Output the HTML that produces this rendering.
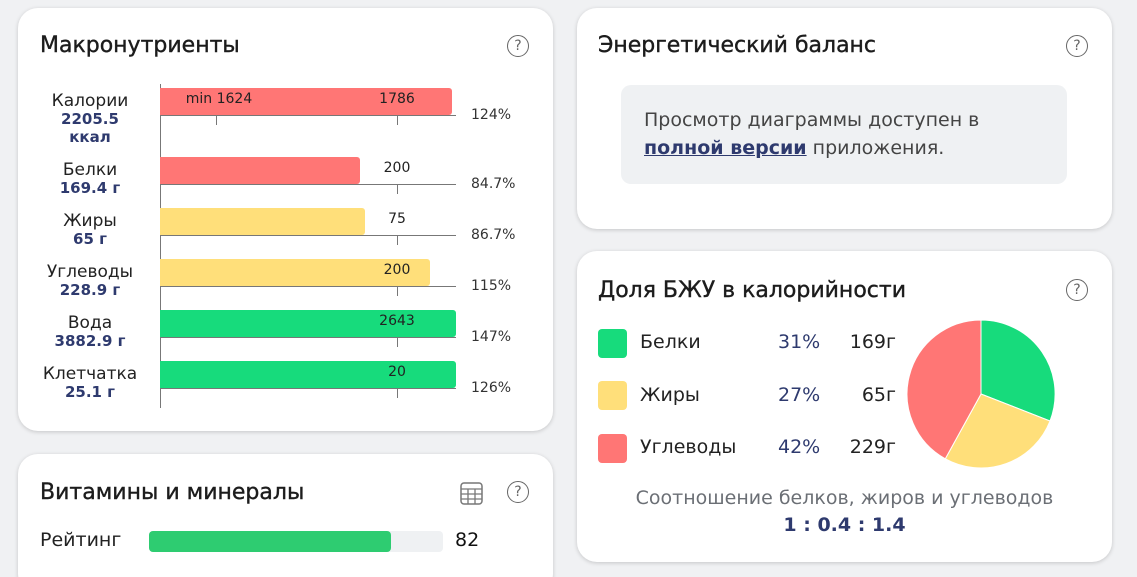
<!DOCTYPE html>
<html><head><meta charset="utf-8"><style>
html,body{margin:0;width:1137px;height:577px;overflow:hidden}
body{background:#f0f1f3;font-family:"DejaVu Sans","Liberation Sans",sans-serif;position:relative;color:#222}
.card{position:absolute;background:#fff;border-radius:20px;box-shadow:0 1px 4px rgba(0,0,0,.18)}
.a{position:absolute;white-space:nowrap}
h2{position:absolute;margin:0;font-weight:normal;font-size:22px;color:#1c1c1c;-webkit-text-stroke:0.4px #1c1c1c}
.q{position:absolute;width:20px;height:20px;border:1.5px solid #666;border-radius:50%;font-size:14px;text-align:center;line-height:20px;color:#666}
.lbl{position:absolute;width:130px;left:25px;text-align:center;font-size:17px;line-height:18px;color:#222}
.lbl b{display:block;color:#2e3a6e;font-size:15px}
.bar{position:absolute;left:160px;height:27px;border-radius:0 3px 3px 0}
.base{position:absolute;left:160px;width:296px;height:1px;background:#777}
.tk{position:absolute;width:1px;height:10px;background:#777}
.num{position:absolute;font-size:14px;color:#222;transform:translateX(-50%)}
.pct{position:absolute;left:471px;font-size:14px;color:#333}
.sw{position:absolute;left:598px;width:29px;height:29px;border-radius:4px}
.lg{position:absolute;font-size:19px;color:#222}
.lp{position:absolute;font-size:19px;color:#2e3a6e}
</style></head><body>

<div class="card" style="left:18px;top:8px;width:535px;height:423px"></div>
<h2 style="left:40px;top:33px">Макронутриенты</h2>
<div class="q" style="left:507px;top:35px">?</div>

<div style="position:absolute;left:160px;top:84px;width:1px;height:324px;background:#777"></div>

<div class="bar" style="top:88px;width:292px;background:#ff7675"></div>
<div class="bar" style="top:157px;width:200px;background:#ff7675"></div>
<div class="bar" style="top:208px;width:205px;background:#ffdf7a"></div>
<div class="bar" style="top:259px;width:270px;background:#ffdf7a"></div>
<div class="bar" style="top:310px;width:296px;background:#17db7c"></div>
<div class="bar" style="top:361px;width:296px;background:#17db7c"></div>

<div class="base" style="top:115px"></div><div class="tk" style="left:216px;top:115px"></div><div class="tk" style="left:397px;top:115px"></div>
<div class="base" style="top:184px"></div><div class="tk" style="left:397px;top:184px"></div>
<div class="base" style="top:235px"></div><div class="tk" style="left:397px;top:235px"></div>
<div class="base" style="top:286px"></div><div class="tk" style="left:397px;top:286px"></div>
<div class="base" style="top:337px"></div><div class="tk" style="left:397px;top:337px"></div>
<div class="base" style="top:388px"></div><div class="tk" style="left:397px;top:388px"></div>

<div class="num" style="left:219px;top:91px">min 1624</div>
<div class="num" style="left:397px;top:91px">1786</div>
<div class="num" style="left:397px;top:160px">200</div>
<div class="num" style="left:397px;top:211px">75</div>
<div class="num" style="left:397px;top:262px">200</div>
<div class="num" style="left:397px;top:313px">2643</div>
<div class="num" style="left:397px;top:364px">20</div>

<div class="pct" style="top:107px">124%</div>
<div class="pct" style="top:176px">84.7%</div>
<div class="pct" style="top:227px">86.7%</div>
<div class="pct" style="top:278px">115%</div>
<div class="pct" style="top:329px">147%</div>
<div class="pct" style="top:380px">126%</div>

<div class="lbl" style="top:92px">Калории<b>2205.5<br>ккал</b></div>
<div class="lbl" style="top:161px">Белки<b>169.4 г</b></div>
<div class="lbl" style="top:212px">Жиры<b>65 г</b></div>
<div class="lbl" style="top:263px">Углеводы<b>228.9 г</b></div>
<div class="lbl" style="top:314px">Вода<b>3882.9 г</b></div>
<div class="lbl" style="top:365px">Клетчатка<b>25.1 г</b></div>

<div class="card" style="left:18px;top:454px;width:535px;height:140px"></div>
<h2 style="left:40px;top:480px">Витамины и минералы</h2>
<svg class="a" style="left:460px;top:482px" width="24" height="24"><rect x="1" y="1" width="21" height="21" rx="3" fill="none" stroke="#777" stroke-width="1.5"/><path d="M1 7H22M1 12H22M1 17H22M8 7V22M15 7V22" stroke="#777" stroke-width="1.3"/></svg>
<div class="q" style="left:507px;top:481px">?</div>
<div class="a" style="left:40px;top:529px;font-size:19px;color:#222">Рейтинг</div>
<div class="a" style="left:149px;top:531px;width:294px;height:21px;background:#eff1f3;border-radius:4px"></div>
<div class="a" style="left:149px;top:531px;width:242px;height:21px;background:#2ecc71;border-radius:4px"></div>
<div class="a" style="left:455px;top:529px;font-size:19px;color:#111">82</div>

<div class="card" style="left:577px;top:8px;width:535px;height:221px"></div>
<h2 style="left:598px;top:33px">Энергетический баланс</h2>
<div class="q" style="left:1066px;top:35px">?</div>
<div class="a" style="left:621px;top:85px;width:446px;height:99px;background:#eff1f3;border-radius:10px"></div>
<div class="a" style="left:644px;top:106px;font-size:19px;line-height:28px;color:#444">Просмотр диаграммы доступен в<br><span style="color:#2e3a6e;font-weight:bold;text-decoration:underline">полной версии</span> приложения.</div>

<div class="card" style="left:577px;top:251px;width:535px;height:311px"></div>
<h2 style="left:598px;top:278px">Доля БЖУ в калорийности</h2>
<div class="q" style="left:1066px;top:279px">?</div>

<div class="sw" style="top:329px;background:#17db7c"></div>
<div class="sw" style="top:381px;background:#ffdf7a"></div>
<div class="sw" style="top:434px;background:#ff7675"></div>
<div class="lg" style="left:640px;top:331px">Белки</div>
<div class="lg" style="left:640px;top:384px">Жиры</div>
<div class="lg" style="left:640px;top:436px">Углеводы</div>
<div class="lp" style="left:778px;top:331px">31%</div>
<div class="lp" style="left:778px;top:384px">27%</div>
<div class="lp" style="left:778px;top:436px">42%</div>
<div class="lg" style="left:820px;top:331px;width:76px;text-align:right">169г</div>
<div class="lg" style="left:820px;top:384px;width:76px;text-align:right">65г</div>
<div class="lg" style="left:820px;top:436px;width:76px;text-align:right">229г</div>

<svg class="a" style="left:0;top:0" width="1137" height="577">
<path d="M981 394 L981 320 A74 74 0 0 1 1050 421 Z" fill="#17db7c" stroke="#fff" stroke-width="1"/>
<path d="M981 394 L1050 421 A74 74 0 0 1 945.3 458.8 Z" fill="#ffdf7a" stroke="#fff" stroke-width="1"/>
<path d="M981 394 L945.3 458.8 A74 74 0 0 1 981 320 Z" fill="#ff7675" stroke="#fff" stroke-width="1"/>
</svg>

<div class="a" style="left:577px;width:535px;top:487px;text-align:center;font-size:19px;color:#6b6f75">Соотношение белков, жиров и углеводов</div>
<div class="a" style="left:577px;width:535px;top:514px;text-align:center;font-size:19px;color:#2e3a6e;font-weight:bold">1 : 0.4 : 1.4</div>
</body></html>
